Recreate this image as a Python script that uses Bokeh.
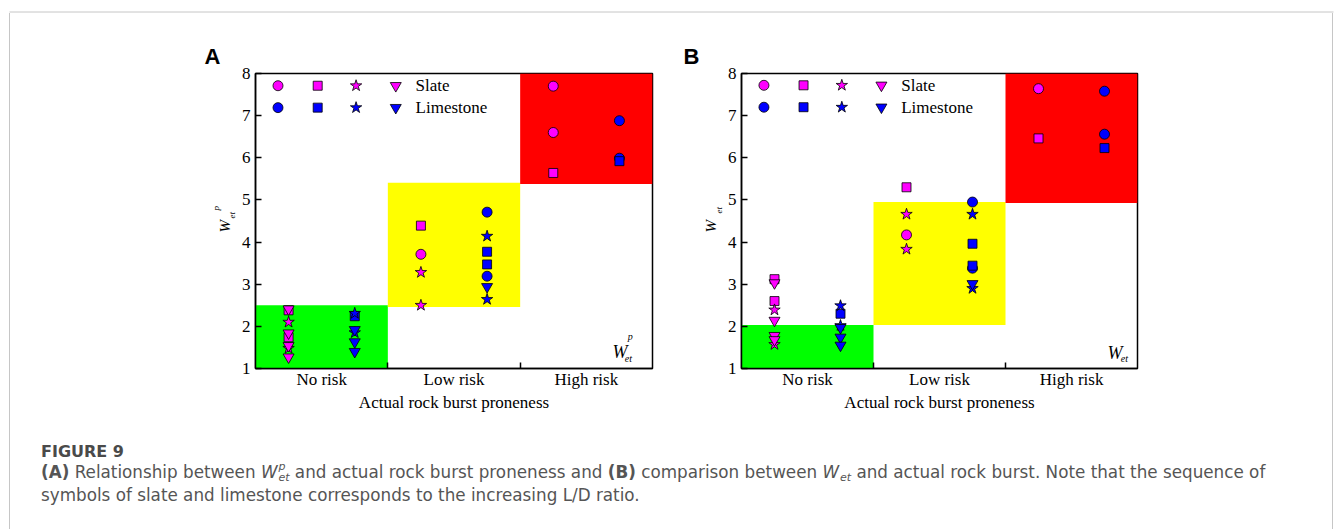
import math
from bokeh.plotting import figure
from bokeh.models import Range1d, FixedTicker, Label, Div, ColumnDataSource, Title
from bokeh.layouts import row, column
from bokeh.core.properties import value
from bokeh.embed import file_html
from bokeh.resources import INLINE

# ---------------- data ----------------
CATEGORIES = ["No risk", "Low risk", "High risk"]
Y_TICKS = [1, 2, 3, 4, 5, 6, 7, 8]
MARKER_ORDER = ["circle", "square", "star", "inverted_triangle"]
ROCKS = ["Slate", "Limestone"]

# Panel A : W_et^p
A_slate_cat = ["Low risk", "High risk", "High risk",
               "No risk", "No risk", "Low risk", "High risk",
               "No risk", "No risk", "Low risk", "Low risk",
               "No risk", "No risk", "No risk", "No risk"]
A_slate_marker = ["circle", "circle", "circle",
                  "square", "square", "square", "square",
                  "star", "star", "star", "star",
                  "inverted_triangle", "inverted_triangle", "inverted_triangle", "inverted_triangle"]
A_slate_val = [3.71, 7.70, 6.60,
               2.38, 1.74, 4.39, 5.64,
               2.10, 1.48, 3.28, 2.50,
               2.41, 1.84, 1.54, 1.27]

A_lime_cat = ["Low risk", "Low risk", "High risk", "High risk",
              "No risk", "Low risk", "Low risk", "High risk",
              "No risk", "No risk", "Low risk", "Low risk",
              "No risk", "No risk", "No risk", "Low risk"]
A_lime_marker = ["circle", "circle", "circle", "circle",
                 "square", "square", "square", "square",
                 "star", "star", "star", "star",
                 "inverted_triangle", "inverted_triangle", "inverted_triangle", "inverted_triangle"]
A_lime_val = [4.71, 3.19, 6.88, 5.99,
              2.24, 3.77, 3.47, 5.92,
              2.31, 1.85, 4.14, 2.64,
              1.92, 1.63, 1.40, 2.94]

A_zone_bottom = [1.0, 2.46, 5.38]
A_zone_top = [2.50, 5.41, 8.0]

# Panel B : W_et
B_slate_cat = ["Low risk", "High risk",
               "No risk", "No risk", "Low risk", "High risk",
               "No risk", "No risk", "Low risk", "Low risk",
               "No risk", "No risk", "No risk", "No risk"]
B_slate_marker = ["circle", "circle",
                  "square", "square", "square", "square",
                  "star", "star", "star", "star",
                  "inverted_triangle", "inverted_triangle", "inverted_triangle", "inverted_triangle"]
B_slate_val = [4.17, 7.64,
               3.12, 2.60, 5.30, 6.46,
               2.39, 1.57, 4.66, 3.83,
               3.03, 2.14, 1.78, 1.68]

B_lime_cat = ["Low risk", "Low risk", "High risk", "High risk",
              "No risk", "Low risk", "Low risk", "High risk",
              "No risk", "No risk", "Low risk", "Low risk",
              "No risk", "No risk", "No risk", "Low risk"]
B_lime_marker = ["circle", "circle", "circle", "circle",
                 "square", "square", "square", "square",
                 "star", "star", "star", "star",
                 "inverted_triangle", "inverted_triangle", "inverted_triangle", "inverted_triangle"]
B_lime_val = [4.95, 3.38, 7.58, 6.56,
              2.30, 3.96, 3.44, 6.23,
              2.49, 2.02, 4.66, 2.90,
              1.97, 1.74, 1.55, 3.01]

B_zone_bottom = [1.0, 2.03, 4.93]
B_zone_top = [2.03, 4.95, 8.0]

# ---------------- style ----------------
ZONE_COLORS = ["#00FF00", "#FFFF00", "#FF0000"]
ROCK_COLORS = {"Slate": "#FF00FF", "Limestone": "#0000FF"}
ROCK_OFFSET = {"Slate": 0.25, "Limestone": 0.75}
MARKER_SIZE = {"circle": 10, "square": 9, "star": 12, "inverted_triangle": 11}
LEGEND_X = [0.17, 0.47, 0.76, 1.06]
LEGEND_TEXT_X = 1.21
SERIF = "Liberation Serif"
FS = "17px"
BORDER = "#c6c6c6"
ROW_H = 413
TOP_H = 13
Y_RANGE = (1, 8)


def lab(p, x, y, text, dx, dy, size, style="normal", font=SERIF, angle=0.0):
    p.add_layout(Label(x=x, y=y, x_offset=dx, y_offset=dy, text=text,
                       text_font=font, text_font_size=size, text_font_style=style,
                       angle=angle, text_align="left", text_baseline="alphabetic",
                       text_color="black"))


def strip(width, height, y_range, letter=None, letter_off=0):
    s = figure(width=width, height=height, x_range=Range1d(0, width), y_range=Range1d(*y_range),
               x_axis_location=None, y_axis_location=None, toolbar_location=None,
               output_backend="svg", min_border=0)
    if letter:
        s.title = Title(text=letter, align="left", offset=letter_off, standoff=9,
                        text_font="Liberation Sans", text_font_size="22px", text_font_style="bold",
                        text_color="black")
    s.xgrid.visible = False
    s.ygrid.visible = False
    s.outline_line_color = None
    s.background_fill_color = "white"
    s.border_fill_color = "white"
    return s


def vline_div(width, x):
    html = ('<div style="margin-left:%dpx;width:1px;height:%dpx;background:%s;"></div>'
            % (x, ROW_H, BORDER))
    return Div(text=html, width=width, height=ROW_H, margin=0)


def make_panel(width, mb_left, mb_right, zb, zt, slate, lime, legend_y, corner_parts):
    p = figure(width=width, height=ROW_H, x_range=Range1d(0, 3), y_range=Range1d(*Y_RANGE),
               output_backend="svg", toolbar_location=None,
               min_border_left=mb_left, min_border_right=mb_right,
               min_border_top=60, min_border_bottom=ROW_H - 60 - 295)
    p.xgrid.visible = False
    p.ygrid.visible = False
    p.background_fill_color = "white"
    p.border_fill_color = "white"
    p.outline_line_color = "black"
    p.outline_line_width = 1.5
    p.outline_line_alpha = 1.0

    zsrc = ColumnDataSource(dict(left=[0, 1, 2], right=[1, 2, 3], bottom=zb, top=zt, color=ZONE_COLORS))
    p.quad(left="left", right="right", bottom="bottom", top="top", fill_color="color",
           line_color=None, source=zsrc)

    data = {"Slate": slate, "Limestone": lime}
    for mk in MARKER_ORDER:
        for rock in ROCKS:
            cat, mks, vals = data[rock]
            xs = [CATEGORIES.index(c) + ROCK_OFFSET[rock] for c, m in zip(cat, mks) if m == mk]
            ys = [v for v, m in zip(vals, mks) if m == mk]
            if xs:
                p.scatter(xs, ys, marker=mk, size=MARKER_SIZE[mk], fill_color=ROCK_COLORS[rock],
                          line_color="black", line_width=0.8)

    for rock, ly in zip(ROCKS, legend_y):
        for mk, lx in zip(MARKER_ORDER, LEGEND_X):
            p.scatter([lx], [ly], marker=mk, size=MARKER_SIZE[mk], fill_color=ROCK_COLORS[rock],
                      line_color="black", line_width=0.8)
        p.text([LEGEND_TEXT_X], [ly], text=[rock], text_font=value(SERIF), text_font_size=value(FS),
               text_baseline="middle", text_align="left", text_color="black")

    ya = p.yaxis[0]
    ya.ticker = FixedTicker(ticks=Y_TICKS, minor_ticks=[])
    ya.major_tick_in = 6
    ya.major_tick_out = 0
    ya.minor_tick_in = 0
    ya.minor_tick_out = 0
    ya.major_tick_line_width = 1.5
    ya.axis_line_width = 1.5
    ya.major_label_text_font = SERIF
    ya.major_label_text_font_size = FS
    ya.major_label_text_color = "black"
    ya.major_label_standoff = 5

    xa = p.xaxis[0]
    xa.ticker = FixedTicker(ticks=[0.5, 1.5, 2.5], minor_ticks=[1, 2])
    xa.major_label_overrides = {0.5: CATEGORIES[0], 1.5: CATEGORIES[1], 2.5: CATEGORIES[2]}
    xa.major_tick_in = 0
    xa.major_tick_out = 0
    xa.minor_tick_in = 6
    xa.minor_tick_out = 0
    xa.minor_tick_line_width = 1.5
    xa.minor_tick_line_color = "black"
    xa.axis_line_width = 1.5
    xa.major_label_text_font = SERIF
    xa.major_label_text_font_size = FS
    xa.major_label_text_color = "black"
    xa.major_label_standoff = 1
    xa.axis_label = "Actual rock burst proneness"
    xa.axis_label_text_font = SERIF
    xa.axis_label_text_font_size = FS
    xa.axis_label_text_font_style = "normal"
    xa.axis_label_text_color = "black"
    xa.axis_label_standoff = 1

    for text, dx, dy, size in corner_parts:
        lab(p, 3, 1, text, dx, dy, size, style="italic")
    return p


# ---- top border strip ----
top = strip(1335, TOP_H, (0, TOP_H))
top.segment(x0=[9], y0=[TOP_H - 11.5], x1=[1333], y1=[TOP_H - 11.5], line_color=BORDER, line_width=1)

# ---- left border + panel letter A + y-axis label of A (strip frame aligns with the panel frame) ----
dL = vline_div(10, 9)
sL = strip(228, ROW_H, Y_RANGE, letter="A", letter_off=194)
lab(sL, 214, 4.227, "W", 0, 0, "15px", style="italic", angle=math.pi / 2)
lab(sL, 221, 4.559, "et", 0, 0, "9px", style="italic", angle=math.pi / 2)
lab(sL, 205, 4.749, "p", 0, 0, "9px", style="italic", angle=math.pi / 2)

pA = make_panel(430, 15, 16, A_zone_bottom, A_zone_top,
                (A_slate_cat, A_slate_marker, A_slate_val),
                (A_lime_cat, A_lime_marker, A_lime_val),
                [7.71, 7.19],
                [("W", -40, 16.3, "18px"), ("et", -27.7, 10.3, "10px"), ("p", -24.7, 32.3, "10px")])

# ---- panel letter B + y-axis label of B ----
sM = strip(56, ROW_H, Y_RANGE, letter="B", letter_off=15)
lab(sM, 42, 4.227, "W", 0, 0, "15px", style="italic", angle=math.pi / 2)
lab(sM, 50, 4.678, "et", 0, 0, "9px", style="italic", angle=math.pi / 2)

pB = make_panel(416, 15, 3, B_zone_bottom, B_zone_top,
                (B_slate_cat, B_slate_marker, B_slate_val),
                (B_lime_cat, B_lime_marker, B_lime_val),
                [7.72, 7.20],
                [("W", -30, 16, "18px"), ("et", -16.7, 10, "10px")])

# ---- right border ----
dR = vline_div(195, 192)

# ---- caption ----
SUBSUP = ('<span style="display:inline-block;position:relative;width:12px;height:16px;">'
          '<i style="position:absolute;left:1px;top:-1px;font-size:11px;line-height:11px;">{sup}</i>'
          '<i style="position:absolute;left:1px;top:10px;font-size:11px;line-height:11px;">et</i></span>')
W_ET_P = '<i>W</i>' + SUBSUP.format(sup="p")
W_ET = '<i>W</i>' + SUBSUP.format(sup="")

caption_html = (
    '<div style="box-sizing:border-box;margin-left:9px;width:1324px;height:103px;'
    'border-left:1px solid ' + BORDER + ';border-right:1px solid ' + BORDER + ';'
    'font-family:\'DejaVu Sans\',sans-serif;color:#555555;padding:16px 0 0 31px;">'
    '<div style="font-size:16px;font-weight:bold;line-height:19px;color:#4a4a4a;">FIGURE 9</div>'
    '<div style="font-size:16.8px;line-height:23px;white-space:nowrap;">'
    '<b>(A)</b> Relationship between ' + W_ET_P + ' and actual rock burst proneness and '
    '<b>(B)</b> comparison between ' + W_ET + ' and actual rock burst. Note that the sequence of<br>'
    'symbols of slate and limestone corresponds to the increasing L/D ratio.</div></div>'
)
caption = Div(text=caption_html, width=1335, height=103, margin=0)

layout = column(top, row(dL, sL, pA, sM, pB, dR), caption)

open("out.html", "w").write(file_html(layout, INLINE))
